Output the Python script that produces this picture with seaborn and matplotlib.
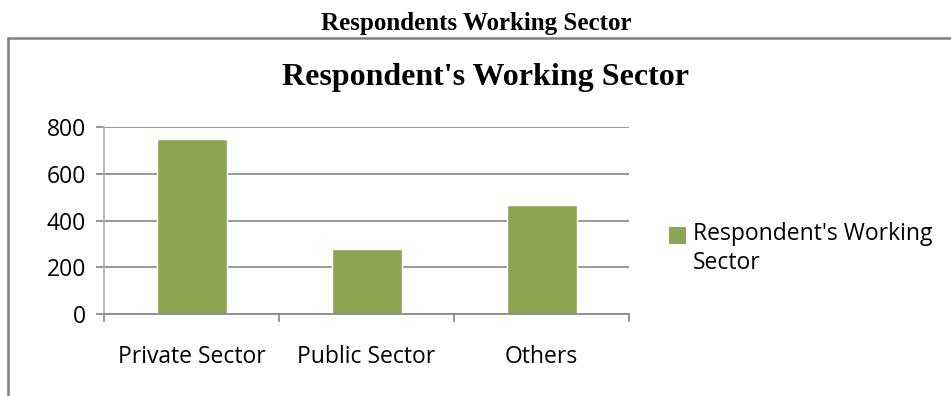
import matplotlib
matplotlib.use("Agg")
import matplotlib.pyplot as plt
import seaborn as sns
import pandas as pd
from matplotlib.lines import Line2D
from matplotlib.patches import Rectangle
from matplotlib.legend_handler import HandlerPatch
from matplotlib.container import BarContainer

categories = ["Private Sector", "Public Sector", "Others"]
values = [750, 280, 465]
series_name = "Respondent's Working Sector"
y_ticks = [0, 200, 400, 600, 800]
outer_title = "Respondents Working Sector"

sns.set_theme(style="white")
plt.rcParams['font.family'] = ['Open Sans', 'DejaVu Sans']
plt.rcParams['text.color'] = 'black'

df = pd.DataFrame({"Sector": categories, "Count": values})

fig = plt.figure(figsize=(9.51, 3.96), dpi=100)
ax = fig.add_axes([104/951, 1-314/396, (629-104)/951, (314-127)/396])

bar_color = "#8BA650"
sns.barplot(data=df, x="Sector", y="Count", color=bar_color, width=0.4,
            ax=ax, label="Respondent's Working\nSector", saturation=1)

grid_c = "#868686"
ax.set_ylim(0, 800)
ax.set_xlim(-0.5, 2.5)
ax.set_yticks(y_ticks)
ax.set_yticklabels([str(t) for t in y_ticks])
ax.yaxis.grid(True, color=grid_c, linewidth=1.2)
ax.set_axisbelow(True)
ax.set_xlabel("")
ax.set_ylabel("")
for s in ["top", "right"]:
    ax.spines[s].set_visible(False)
for s in ["left", "bottom"]:
    ax.spines[s].set_color(grid_c)
    ax.spines[s].set_linewidth(1.2)
ax.spines["left"].set_color("#b0b0b0")

ax.set_xticks([-0.5, 0.5, 1.5, 2.5], minor=True)
ax.tick_params(axis="x", which="minor", length=6, width=1.2, color=grid_c, direction="out", bottom=True)
ax.tick_params(axis="x", which="major", length=0, pad=22, labelsize=16.5, labelcolor="black")
ax.tick_params(axis="y", which="major", length=6, width=1.2, color=grid_c, direction="out", left=True,
               pad=7, labelsize=16.5, labelcolor="black")

ax.set_title(series_name, fontfamily="Liberation Serif", fontweight="bold",
             fontsize=23, pad=30, color="black", x=(485-104)/525)


def make_square(legend, orig_handle, xdescent, ydescent, width, height, fontsize):
    return Rectangle((-xdescent, -ydescent + 10.5), width, height)


def update_from_bar(legend_handle, orig_handle):
    src = orig_handle.patches[0] if isinstance(orig_handle, BarContainer) else orig_handle
    legend_handle.update_from(src)
    legend_handle.set_edgecolor("none")


handler = HandlerPatch(patch_func=make_square, update_func=update_from_bar)
leg = ax.legend(loc="upper left", bbox_to_anchor=(669/951, 1-222/396),
                bbox_transform=fig.transFigure, frameon=False,
                fontsize=16.5, handlelength=0.75, handleheight=0.75, handletextpad=0.3,
                borderaxespad=0, borderpad=0,
                handler_map={BarContainer: handler, Rectangle: handler})
for t in leg.get_texts():
    t.set_linespacing(1.3)
    t.set_color("black")

fig.text(476/951, 1-30/396, outer_title, ha="center", va="baseline",
         fontfamily="Liberation Serif", fontweight="bold", fontsize=18, color="black")

box_c = "#808080"
fig.add_artist(Line2D([8/951, 8/951], [0, 1-38/396], color=box_c, linewidth=1.8, transform=fig.transFigure))
fig.add_artist(Line2D([8/951, 1], [1-38/396, 1-38/396], color=box_c, linewidth=1.8, transform=fig.transFigure))

fig.savefig("out.png", dpi=100)
